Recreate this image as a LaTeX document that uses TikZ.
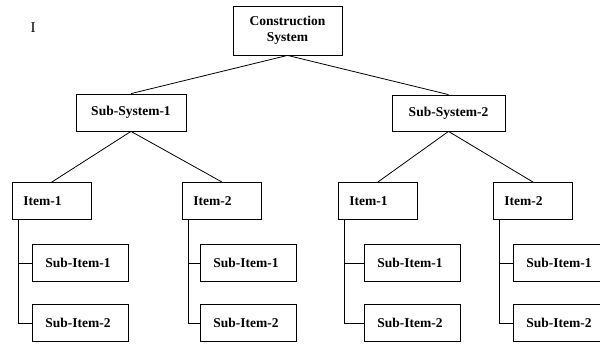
\documentclass[tikz,border=0pt]{standalone}
\usepackage{fontspec}
\setmainfont{Liberation Serif}

\begin{document}
\begin{tikzpicture}[x=1pt,y=-1pt,line width=0.8pt]
      \tikzstyle{box} = [draw,rectangle,inner ysep=0pt,font=\fontsize{13.5}{16}\selectfont\bfseries]
      \tikzstyle{item} = [box,anchor=north west,minimum height=37pt,text width=57pt,inner xsep=11pt,align=left]
      \tikzstyle{sub} = [box,anchor=north west,minimum height=37pt,text width=70pt,inner xsep=13pt,align=left]

      \useasboundingbox (0,0) rectangle (600,343);
      \clip (0,0) rectangle (600,343);

      \node[font=\fontsize{15}{15}\selectfont] (mark) at (33,28) {I};

      \node[box,minimum width=109pt,minimum height=49pt,align=center] (root) at (287.5,30.5) {Construction\\System};
      \node[box,minimum width=110pt,minimum height=37pt] (ss1) at (131,112.5) {Sub-System-1};
      \node[box,minimum width=113pt,minimum height=36pt] (ss2) at (448.5,113) {Sub-System-2};

      \draw (root.south) -- (ss1.north);
      \draw (root.south) -- (ss2.north);

      % item groups: name / item x / sub-item x / parent / number
      \def\groups{a/12/32/ss1/1, b/182/200/ss1/2, c/338/364/ss2/1, d/493/513/ss2/2}
      \foreach \n/\x/\s/\p/\t in \groups {
        \node[item] (\n) at (\x,182) {Item-\t};
        \node[sub] (\n1) at (\s,244) {Sub-Item-1};
        \node[sub] (\n2) at (\s,304) {Sub-Item-2};
        \coordinate (\n t) at ([xshift=6pt]\n.south west);
        \draw (\p.south) -- (\n.north);
        \draw (\n t) |- (\n1.west);
        \draw (\n t) |- (\n2.west);
      }

    \end{tikzpicture}
\end{document}
